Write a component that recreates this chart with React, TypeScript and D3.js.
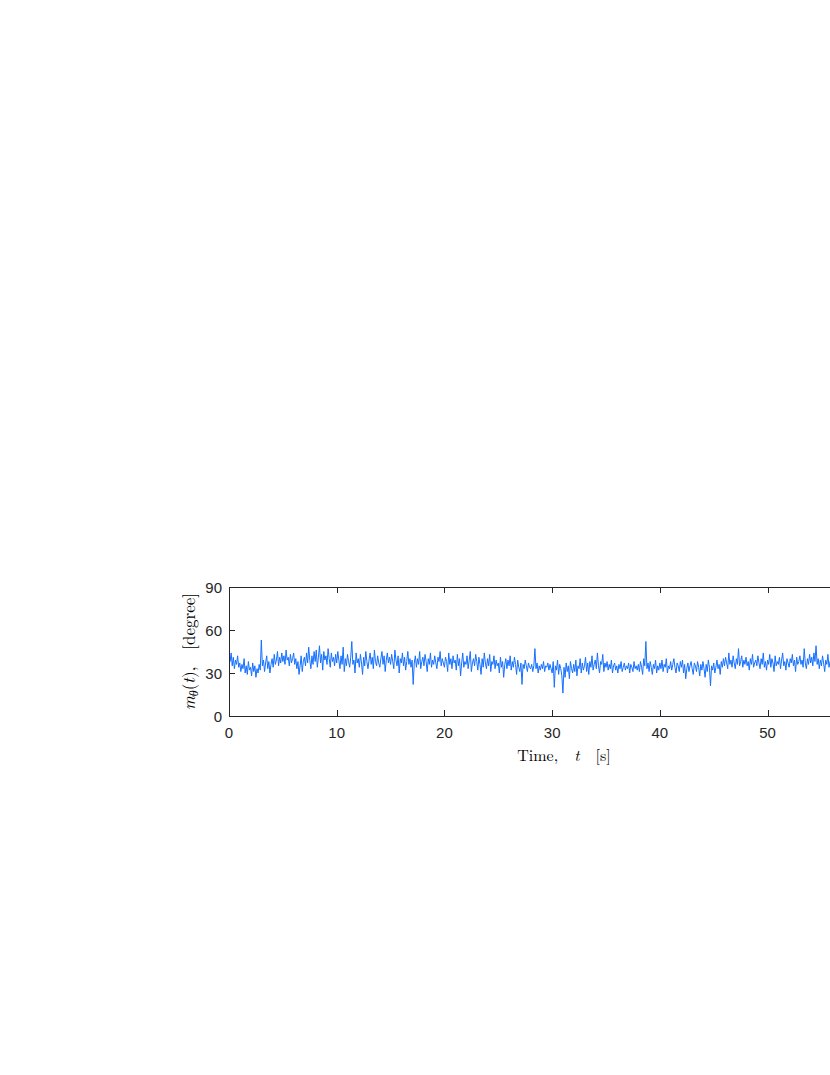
import React from 'react';
import * as d3 from 'd3';

const xTicks = [0, 10, 20, 30, 40, 50, 60];
const xTickLabels = [0, 10, 20, 30, 40, 50];
const yTicks = [0, 30, 60, 90];
const sampleStep = 0.1; // seconds between samples
const xMax = 62.2;

// m_theta(t) in degrees, one row per second (10 samples each)
const angleDeg: number[] = [
  47, 38, 44, 35, 41, 33, 39, 36, 42, 34,
  37, 31, 36, 33, 40, 30, 35, 29, 38, 32,
  34, 28, 37, 31, 35, 27, 33, 30, 36, 32,
  53, 35, 39, 31, 37, 42, 33, 38, 30, 36,
  40, 34, 43, 36, 39, 45, 35, 41, 37, 44,
  38, 42, 36, 46, 39, 41, 35, 43, 37, 40,
  44, 36, 40, 33, 38, 29, 35, 42, 31, 38,
  41, 35, 44, 37, 48, 39, 33, 42, 36, 45,
  38, 46, 34, 41, 49, 37, 43, 32, 45, 39,
  42, 36, 47, 40, 34, 44, 38, 41, 35, 43,
  37, 45, 39, 33, 42, 36, 48, 31, 40, 35,
  43, 38, 34, 41, 52, 36, 39, 30, 44, 37,
  40, 34, 43, 37, 29, 41, 35, 45, 38, 33,
  39, 44, 36, 41, 33, 46, 38, 35, 42, 37,
  34, 40, 45, 36, 42, 31, 39, 44, 37, 41,
  36, 43, 38, 33, 46, 39, 35, 42, 30, 40,
  37, 44, 35, 41, 32, 38, 45, 36, 40, 34,
  39, 22, 37, 42, 34, 40, 36, 45, 33, 38,
  41, 35, 43, 38, 31, 40, 36, 44, 34, 39,
  36, 42, 37, 33, 41, 38, 45, 35, 40, 37,
  34, 41, 38, 31, 44, 36, 40, 33, 42, 37,
  39, 32, 43, 35, 40, 28, 37, 44, 34, 38,
  36, 42, 33, 39, 45, 31, 37, 40, 35, 43,
  38, 32, 41, 36, 29, 40, 34, 44, 37, 33,
  40, 35, 43, 31, 38, 36, 42, 33, 39, 35,
  37, 30, 41, 34, 38, 27, 36, 40, 33, 39,
  35, 42, 32, 38, 34, 41, 36, 29, 39, 34,
  31, 37, 22, 36, 33, 39, 35, 31, 37, 34,
  33, 36, 31, 35, 47, 33, 37, 30, 35, 32,
  36, 33, 38, 31, 35, 34, 37, 32, 36, 33,
  30, 38, 20, 35, 32, 39, 29, 36, 33, 28,
  16, 34, 27, 37, 31, 35, 26, 38, 33, 30,
  36, 31, 39, 28, 35, 33, 40, 30, 37, 32,
  35, 41, 31, 37, 29, 38, 34, 42, 32, 36,
  39, 33, 44, 35, 30, 38, 36, 43, 31, 37,
  34, 38, 32, 36, 33, 39, 30, 35, 37, 32,
  35, 30, 36, 33, 38, 31, 34, 37, 32, 35,
  33, 37, 30, 36, 34, 31, 38, 33, 35, 32,
  36, 31, 38, 34, 29, 40, 35, 52, 33, 37,
  31, 38, 34, 29, 36, 33, 39, 30, 35, 32,
  37, 33, 39, 31, 36, 34, 40, 30, 35, 33,
  38, 32, 36, 40, 34, 30, 37, 35, 31, 38,
  34, 39, 30, 36, 26, 33, 37, 31, 35, 38,
  33, 29, 37, 35, 31, 38, 34, 28, 36, 32,
  38, 33, 27, 36, 31, 39, 34, 21, 35, 32,
  37, 30, 34, 39, 33, 36, 29, 38, 34, 40,
  35, 41, 37, 33, 44, 36, 39, 34, 42, 37,
  33, 40, 36, 47, 35, 38, 42, 34, 39, 36,
  41, 35, 38, 32, 40, 36, 43, 34, 37, 39,
  35, 42, 37, 33, 40, 36, 44, 34, 38, 32,
  39, 36, 43, 34, 40, 37, 31, 42, 35, 38,
  36, 41, 33, 39, 44, 35, 38, 32, 40, 37,
  34, 40, 37, 43, 35, 39, 31, 41, 36, 38,
  42, 36, 39, 34, 47, 37, 33, 40, 36, 43,
  37, 41, 35, 44, 38, 49, 36, 40, 33, 39,
  35, 42, 37, 31, 39, 36, 43, 34, 38, 36,
  40, 34, 38, 36, 42, 33, 37, 35, 39, 36,
  38, 34, 41, 36, 31, 39, 35, 42, 37, 33,
  40, 36, 43, 34, 38, 32, 39, 36, 44, 35,
  37, 41, 33, 39, 36, 42, 34, 38, 31, 37,
  39, 35, 42, 36, 33, 40, 37, 34, 41, 36,
  38, 33, 40, 35, 37, 42, 34, 39, 36, 38,
  35, 37, 34,
];

export default function App() {
  const W = 830;
  const H = 1075;
  const left = 229, right = 899, top = 587, bottom = 716;
  const x = d3.scaleLinear().domain([0, xMax]).range([left, right]);
  const y = d3.scaleLinear().domain([0, 90]).range([bottom, top]);
  const line = d3
    .line<number>()
    .x((_, i) => x(i * sampleStep))
    .y((d) => y(d));
  const axisColor = '#262626';
  const tickLen = 6;
  const tickFont = '"Liberation Sans", Arial, Helvetica, sans-serif';
  const serif = '"Latin Modern Roman", "CMU Serif", "Liberation Serif", "Times New Roman", serif';

  return (
    <svg
      width={W}
      height={H}
      style={{ position: 'absolute', left: 0, top: 0, display: 'block', background: '#fff' }}
    >
      <defs>
        <clipPath id="plotClip">
          <rect x={left} y={top} width={right - left} height={bottom - top} />
        </clipPath>
      </defs>
      <rect x={0} y={0} width={W} height={H} fill="#fff" />
      <path
        d={line(angleDeg) || ''}
        fill="none"
        stroke="#1570ff"
        strokeWidth={1}
        strokeLinejoin="round"
        clipPath="url(#plotClip)"
      />
      {/* box */}
      <rect
        x={left + 0.5}
        y={top + 0.5}
        width={right - left}
        height={bottom - top}
        fill="none"
        stroke={axisColor}
        strokeWidth={1}
      />
      {/* x ticks */}
      {xTicks.map((t) => (
        <g key={'x' + t}>
          <line x1={Math.round(x(t)) + 0.5} x2={Math.round(x(t)) + 0.5} y1={bottom} y2={bottom - tickLen} stroke={axisColor} />
          <line x1={Math.round(x(t)) + 0.5} x2={Math.round(x(t)) + 0.5} y1={top} y2={top + tickLen} stroke={axisColor} />
        </g>
      ))}
      {xTickLabels.map((t) => (
        <text
          key={'xl' + t}
          x={x(t)}
          y={738}
          textAnchor="middle"
          fontFamily={tickFont}
          fontSize={15}
          fill={axisColor}
        >
          {t}
        </text>
      ))}
      {/* y ticks */}
      {yTicks.map((v) => (
        <g key={'y' + v}>
          <line x1={left} x2={left + tickLen} y1={Math.round(y(v)) + 0.5} y2={Math.round(y(v)) + 0.5} stroke={axisColor} />
          <line x1={right} x2={right - tickLen} y1={Math.round(y(v)) + 0.5} y2={Math.round(y(v)) + 0.5} stroke={axisColor} />
          <text
            x={222}
            y={y(v) + 5.5}
            textAnchor="end"
            fontFamily={tickFont}
            fontSize={15}
            fill={axisColor}
          >
            {v}
          </text>
        </g>
      ))}
      {/* x label */}
      <text x={564} y={761} textAnchor="middle" fontFamily={serif} fontSize={16} fill="#000">
        Time,{'\u00a0\u00a0'}
        <tspan fontStyle="italic">t</tspan>
        {'\u00a0\u00a0'}[s]
      </text>
      {/* y label */}
      <text
        transform={`translate(195, ${(top + bottom) / 2}) rotate(-90)`}
        textAnchor="middle"
        fontFamily={serif}
        fontSize={17}
        fill="#000"
      >
        <tspan fontStyle="italic">m</tspan>
        <tspan fontStyle="italic" fontSize={12} dy={3}>θ</tspan>
        <tspan dy={-3}>(</tspan>
        <tspan fontStyle="italic">t</tspan>
        <tspan>),{'\u00a0\u00a0'}[degree]</tspan>
      </text>
    </svg>
  );
}
